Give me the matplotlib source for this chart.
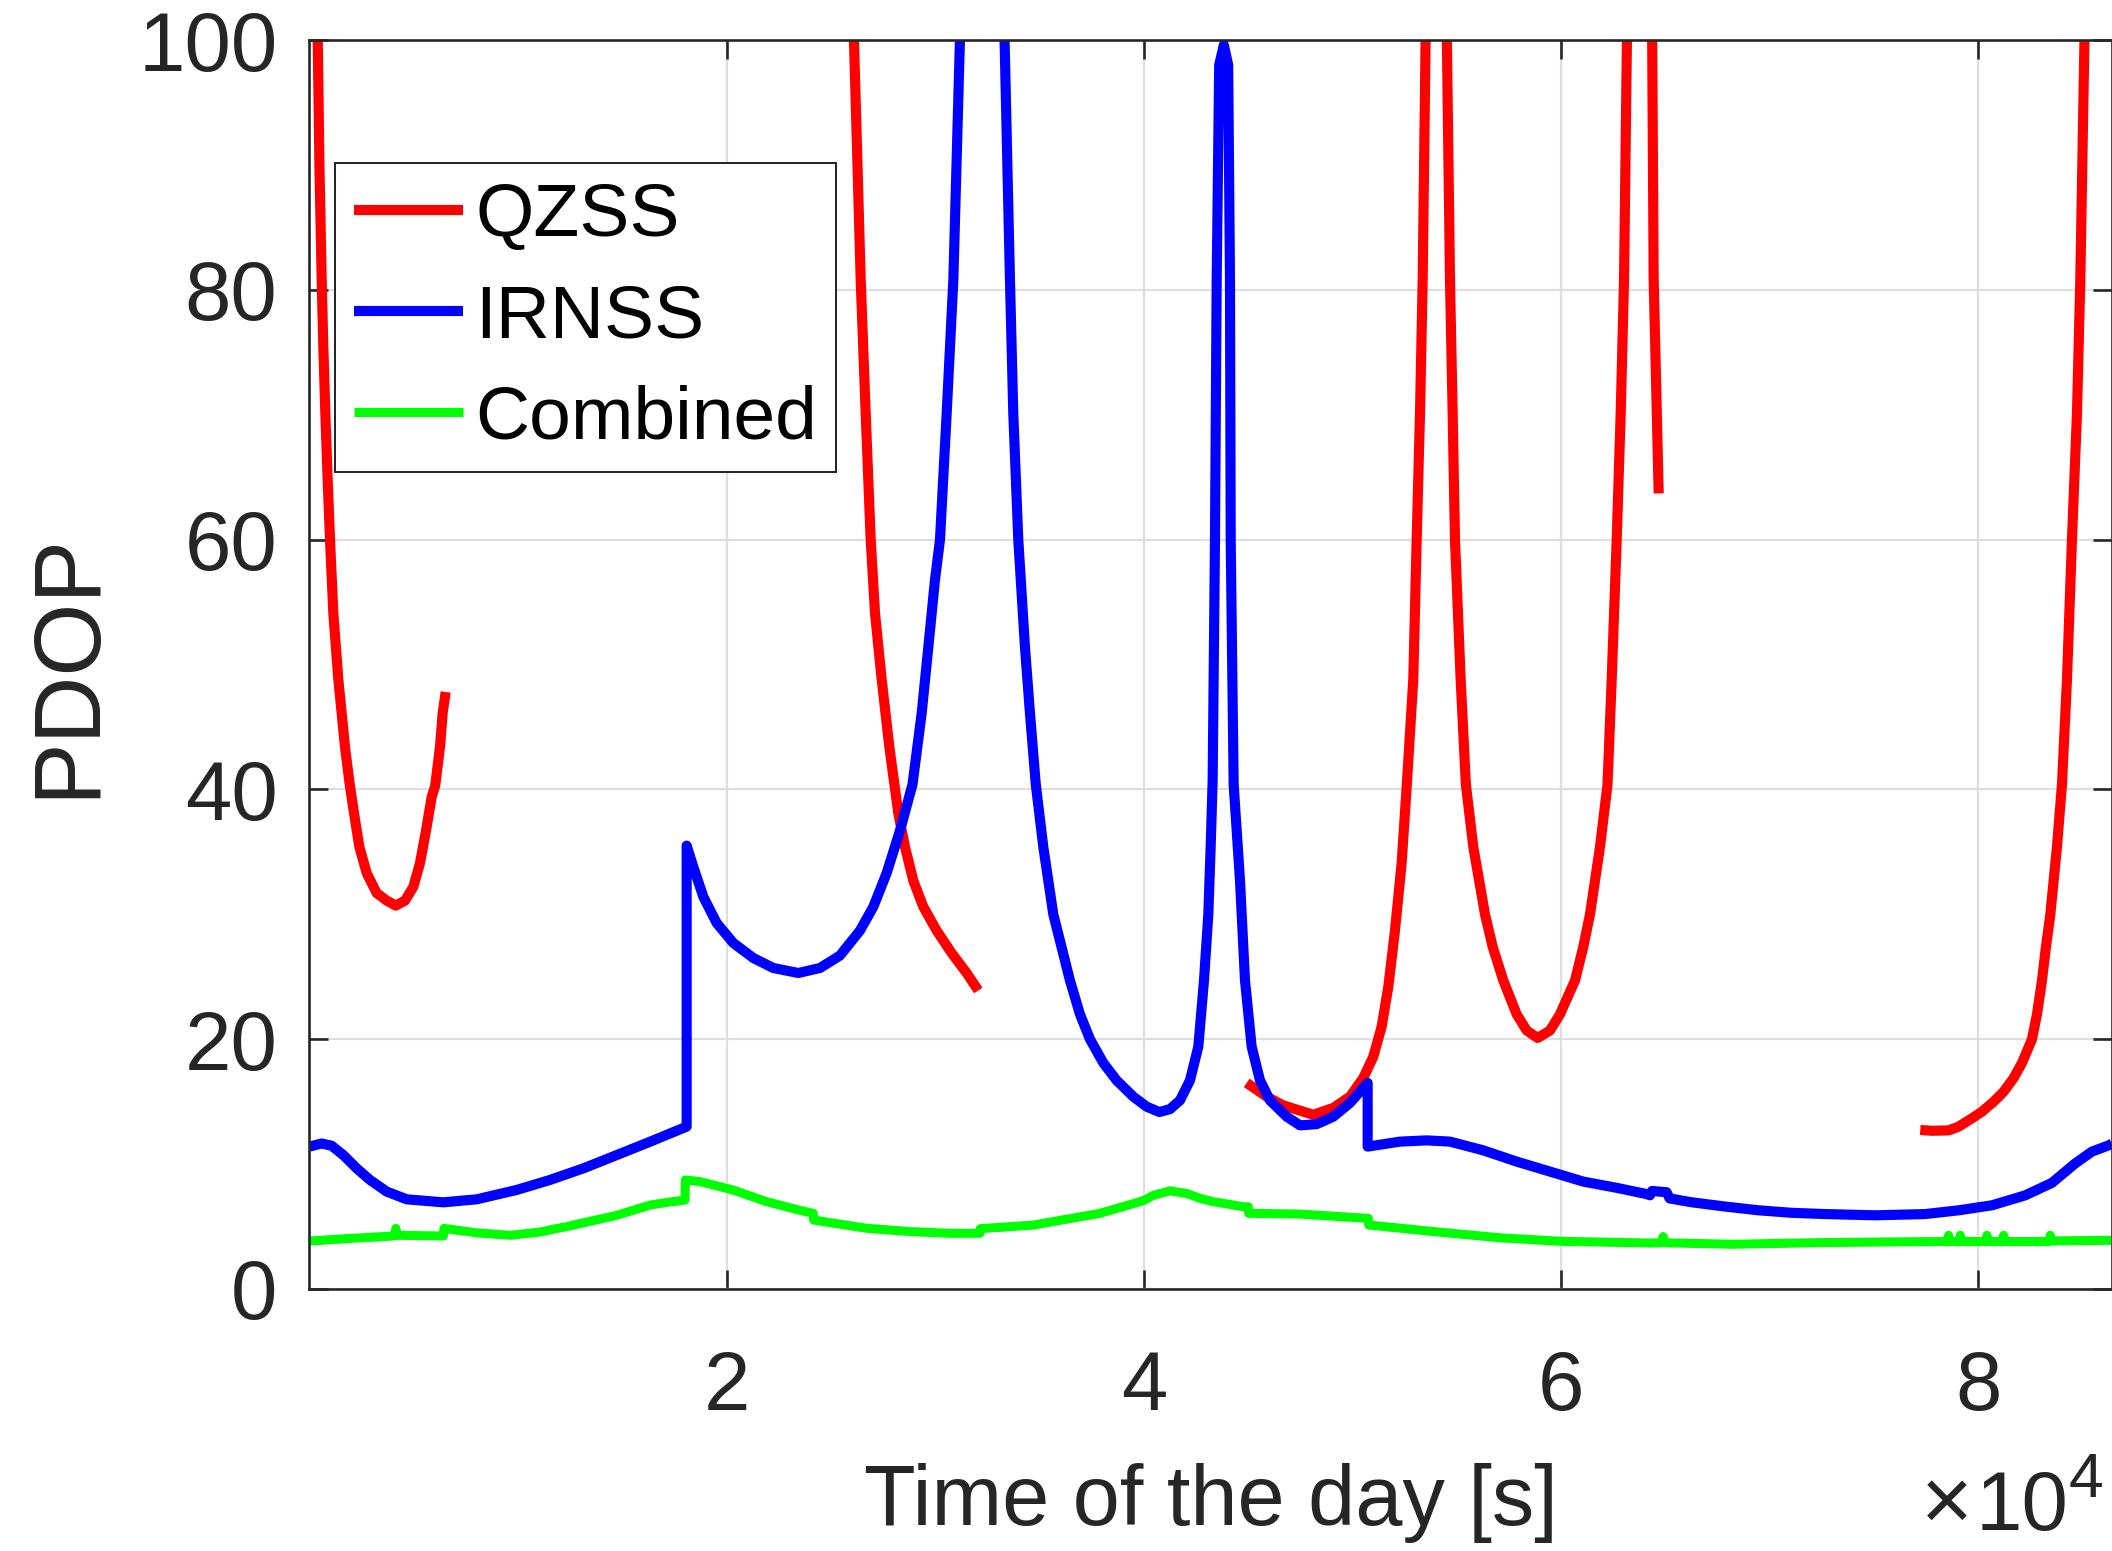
import numpy as np
import matplotlib.pyplot as plt

plt.rcParams['font.family'] = ['Liberation Sans', 'DejaVu Sans']

nan = np.nan

# ---------------- data (time of day [s], PDOP) ----------------
# nan = the curve leaves the plot at the top (PDOP > 100) or has a gap
qzss_t = [400, 480, 588, 668, 764, 875, 987, 1147, 1387, 1706, 1924, 2138, 2393, 2746, 3224, 3704, 4135,
          4582, 4982, 5301, 5589, 5861, 6030, 6259, 6387, 6532, nan,
          26100, 26270, 26423, 26663, 26902, 27110, 27430, 27797, 28048, 28226, 28546, 28945, 29424, 30063,
          30782, 31501, 32060, nan,
          44924, 45883, 46680, 48118, 49076, 49875, 50514, 50993, 51393, 51713, 52032, 52352, 52600, 52910,
          53072, 53232, 53360, 53500, nan,
          54520, 54669, 54797, 54908, 55180, 55430, 55786, 56347, 56714, 57225, 57864, 58343, 58871, 59462,
          59942, 60661, 61060, 61380, 61859, 62220, 62420, 62660, 62851, 63011, 63150, nan,
          64360, 64432, 64672, nan,
          77210, 77771, 78571, 79050, 79688, 80168, 80729, 81206, 81688, 82085, 82564, 82805, 83043, 83234,
          83444, 83762, 84002, 84242, 84481, 84721, 84881, 85080]
qzss_v = [100, 90, 80.8, 75.4, 70.1, 64.8, 60, 54.1, 48.8, 43.4, 40.5, 38.1, 35.4, 33.3, 31.7, 31.1, 30.7,
          31.1, 32.2, 34.1, 36.7, 39.4, 40.3, 43.4, 46.1, 47.8, nan,
          100, 90, 80.8, 70.1, 60, 54.1, 48.8, 43.4, 40.3, 38.1, 35.4, 32.7, 30.6, 28.7,
          26.9, 25.3, 23.9, nan,
          16.5, 15.4, 14.7, 13.95, 14.5, 15.4, 16.9, 18.6, 21.0, 24.2, 28.7, 34.1, 40.4, 48.8,
          60, 70.1, 80.8, 100, nan,
          100, 80.8, 70.1, 60, 48.8, 40.4, 35.4, 30.0, 27.4, 24.7, 22.0, 20.7, 20.1, 20.7,
          22.0, 24.7, 27.4, 30.0, 35.4, 40.4, 48.8, 60, 70.1, 80.8, 100, nan,
          100, 80.8, 63.7, nan,
          12.73, 12.67, 12.7, 13.0, 13.67, 14.2, 15.0, 15.8, 16.9, 18.1, 20, 22.0, 24.7, 27.4,
          30.0, 35.4, 40.4, 48.8, 60, 70.1, 80.8, 100]

irnss_t = [0, 589, 1067, 1626, 2265, 2905, 3704, 4663, 6418, 8016, 9933, 11531, 13129, 14726, 16324, 18082,
           18082, 18401, 18881, 19520, 20319, 21278, 22236, 23435, 24473, 25432, 26390, 27029, 27668, 28307,
           28907, 29347, 29666, 29986, 30225, 30545, 30865, 31180, nan,
           33320, 33578, 33738, 33977, 34297, 34537, 34816, 35176, 35655, 36454, 36933, 37413, 38052, 38691,
           39490, 40129, 40736, 41247, 41727, 42206, 42606, 42878, 43086, 43198, 43294, 43405, 43487, 43607,
           43830, 44038, 44124, 44158, 44300, 44604, 44844, 45163, 45563, 46042, 46841, 47480, 48279, 49078,
           49876, 50723,
           50723, 52272, 53551, 54669, 56267, 57865, 59463, 61061, 62658, 64096, 64250, 64350, 65050, 65200,
           66266, 67864, 69462, 71060, 72657, 75054, 77450, 79048, 80646, 82243, 83521, 84640, 85438, 86237,
           86400]
irnss_v = [11.4, 11.65, 11.47, 10.72, 9.66, 8.73, 7.8, 7.18, 6.94, 7.18, 7.93, 8.73, 9.66, 10.72, 11.79, 13.0,
           35.5, 33.8, 31.4, 29.3, 27.7, 26.5, 25.7, 25.3, 25.7, 26.7, 28.7, 30.6, 33.3, 36.7,
           40.4, 46.1, 51.4, 56.8, 60, 70.1, 80.8, 100, nan,
           100, 80.8, 70.1, 60, 51.4, 46.1, 40.4, 35.4, 30.0, 24.7, 22.0, 20, 18.1, 16.7,
           15.4, 14.6, 14.17, 14.4, 15.1, 16.7, 19.4, 24.7, 30.0, 35.4, 40.75, 60, 80.8, 98,
           99.6, 98, 80.8, 60, 40.4, 32.7, 24.7, 19.4, 16.7, 15.1, 13.8, 13.1, 13.2, 13.8,
           14.9, 16.5,
           11.4, 11.8, 11.9, 11.8, 11.1, 10.2, 9.4, 8.6, 8.1, 7.6, 7.5, 7.85, 7.75, 7.25,
           6.94, 6.6, 6.3, 6.1, 6.0, 5.9, 6.0, 6.3, 6.7, 7.5, 8.5, 10.06, 11.0, 11.5,
           11.65]

comb_t = [0, 1947, 4022, 4100, 4143, 4190, 6418, 6450, 8016, 9615, 11000, 12332, 14729, 16325, 17200, 18003,
          18020, 18721, 20319, 21918, 23514, 24150, 24170, 26711, 28787, 30703, 32141, 32160, 34701, 37894,
          39968, 40448, 41249, 42049, 42687, 43327, 44762, 45002, 45020, 47479, 50676, 50754, 50770, 53869,
          57066, 59989, 64255, 64800, 64885, 64970, 68248, 72244, 77134, 78510, 78570, 78630, 79070, 79128,
          79190, 80346, 80406, 80466, 81146, 81206, 81266, 83381, 83441, 83501, 86400]
comb_v = [3.84, 4.05, 4.24, 4.3, 4.85, 4.3, 4.24, 4.85, 4.5, 4.3, 4.55, 5.0, 5.9, 6.72, 6.95, 7.12,
          8.73, 8.6, 7.92, 6.99, 6.3, 6.06, 5.52, 4.86, 4.6, 4.46, 4.46, 4.83, 5.12, 6.06,
          7.07, 7.5, 7.86, 7.65, 7.26, 6.99, 6.59, 6.59, 6.06, 6.0, 5.66, 5.66, 5.13, 4.6,
          4.1, 3.82, 3.68, 3.7, 4.2, 3.7, 3.58, 3.71, 3.79, 3.8, 4.3, 3.8, 3.8, 4.3,
          3.8, 3.8, 4.3, 3.8, 3.8, 4.3, 3.8, 3.8, 4.3, 3.85, 3.9]

xtick_vals = [20000, 40000, 60000, 80000]
xtick_labels = ['2', '4', '6', '8']
ytick_vals = [0, 20, 40, 60, 80, 100]

# ---------------- figure ----------------
W, H = 2112, 1551
fig = plt.figure(figsize=(W / 100, H / 100), dpi=100)
ax = fig.add_axes([309.4 / W, 1 - 1289 / H, (W - 309.4) / W, (1289 - 40) / H])

dark = '#262626'
style = dict(solid_capstyle='butt', solid_joinstyle='round')
ax.plot(qzss_t, qzss_v, color=(1, 0, 0), lw=7.3, label='QZSS', **style)
ax.plot(irnss_t, irnss_v, color=(0, 0, 1), lw=7.3, label='IRNSS', **style)
ax.plot(comb_t, comb_v, color=(0, 1, 0), lw=6.5, label='Combined', **style)

ax.set_xlim(0, 86400)
ax.set_ylim(0, 100)
ax.set_xticks(xtick_vals)
ax.set_xticklabels(xtick_labels)
ax.set_yticks(ytick_vals)

ax.grid(True, color='#dedede', lw=1.6)
ax.set_axisbelow(True)
for s in ax.spines.values():
    s.set_color(dark)
    s.set_linewidth(1.9)
ax.tick_params(direction='in', length=13.7, width=1.9, color=dark, labelcolor=dark,
               labelsize=60, top=True, right=True)
ax.tick_params(axis='x', pad=43)
ax.tick_params(axis='y', pad=23)

ax.set_xlabel('Time of the day [s]', fontsize=61, color=dark)
ax.xaxis.set_label_coords(0.5, -0.1396)
ax.set_ylabel('PDOP', fontsize=67.5, color=dark)
ax.yaxis.set_label_coords(-0.1088, 0.5)

# axis multiplier, as drawn under the right end of the x axis
fig.text(1921 / W, 1 - 1530 / H, '\u00d7', fontsize=64, color=dark, ha='left', va='baseline')
fig.text(2068 / W, 1 - 1530 / H, '10', fontsize=60, color=dark, ha='right', va='baseline')
fig.text(2069 / W, 1 - 1497 / H, '4', fontsize=45, color=dark, ha='left', va='baseline')

leg = ax.legend(loc='upper left', bbox_to_anchor=(0.0144, 0.9015), borderaxespad=0,
                fontsize=54, handlelength=1.45, handletextpad=0.17, borderpad=0.25,
                labelspacing=0.43, fancybox=False, framealpha=1)
leg.get_frame().set_edgecolor(dark)
leg.get_frame().set_linewidth(1.45)

fig.savefig('out.png', dpi=100)
